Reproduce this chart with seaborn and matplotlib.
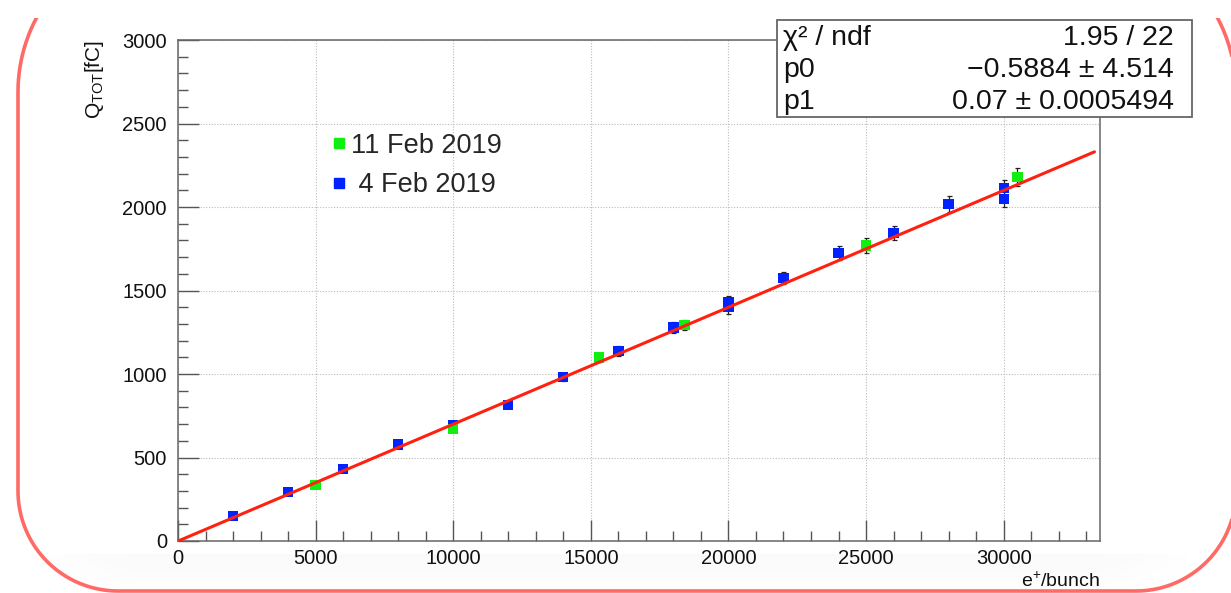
import numpy as np
import pandas as pd
import matplotlib
matplotlib.use("Agg")
import matplotlib.pyplot as plt
import matplotlib.patches as mpatches
from matplotlib.path import Path
from matplotlib.transforms import IdentityTransform, Bbox
from matplotlib.ticker import MultipleLocator
from matplotlib.lines import Line2D
import seaborn as sns

# ---- data -------------------------------------------------------------
x_feb4 = [2000, 4000, 6000, 8000, 10000, 12000, 14000, 16000, 18000,
          20000, 20000, 22000, 24000, 26000, 28000, 30000, 30000]
q_feb4 = [150, 293, 431, 578, 695, 814, 982, 1138, 1278,
          1430, 1400, 1575, 1725, 1844, 2018, 2112, 2048]
err_feb4 = [8, 12, 14, 17, 20, 20, 25, 28, 32,
            38, 40, 35, 40, 42, 45, 50, 50]

x_feb11 = [5000, 10000, 15300, 18400, 25000, 30500]
q_feb11 = [335, 671, 1098, 1293, 1770, 2180]
err_feb11 = [12, 20, 25, 32, 45, 55]

labels = ["11 Feb 2019", " 4 Feb 2019"]

# linear fit result  Q = p0 + p1 * N
chi2, ndf = 1.95, 22
p0, p0_err = -0.5884, 4.514
p1, p1_err = 0.07, 0.0005494
fit_range = [0, 33300]

# ---- style ------------------------------------------------------------
sns.set_theme(style="white")
plt.rcParams["font.family"] = ["Liberation Sans", "DejaVu Sans"]
plt.rcParams["mathtext.fontset"] = "custom"
plt.rcParams["mathtext.rm"] = "Liberation Sans"
plt.rcParams["mathtext.it"] = "Liberation Sans:italic"

W, H = 1231, 593
fig = plt.figure(figsize=(W / 100, H / 100), dpi=100)
fig.patch.set_facecolor("white")

# rounded slide frame around the canvas (pixel coordinates, origin bottom-left)
def rounded_frame(x0, y0, x1, y1, r_top, r_bot, n=40):
    pts = []
    cx, cy = x0 + r_bot, y0 + r_bot
    for t in np.linspace(np.pi, 1.5 * np.pi, n):
        pts.append((cx + r_bot * np.cos(t), cy + r_bot * np.sin(t)))
    cx, cy = x1 - r_bot, y0 + r_bot
    for t in np.linspace(1.5 * np.pi, 2 * np.pi, n):
        pts.append((cx + r_bot * np.cos(t), cy + r_bot * np.sin(t)))
    cx, cy = x1 - r_top, y1 - r_top
    for t in np.linspace(0, 0.5 * np.pi, n):
        pts.append((cx + r_top * np.cos(t), cy + r_top * np.sin(t)))
    cx, cy = x0 + r_top, y1 - r_top
    for t in np.linspace(0.5 * np.pi, np.pi, n):
        pts.append((cx + r_top * np.cos(t), cy + r_top * np.sin(t)))
    pts.append(pts[0])
    return Path(pts, closed=True)

frame_path = rounded_frame(18, 2, 1236, H + 66, 158, 100)

# faint shading along the bottom inside the frame, fading at both ends
shade_ax = fig.add_axes([0, 0, 1, 1], zorder=0)
shade_ax.set_axis_off()
gy = np.linspace(1.0, 0.0, 64)[:, None]
gx = np.clip(np.minimum(np.linspace(0, 1, 256), np.linspace(1, 0, 256)) * 12, 0, 1)[None, :]
shade_ax.imshow(gy * gx, cmap="Greys", vmin=0, vmax=20, aspect="auto",
                extent=[0.03, 0.97, 0.0, 0.065], origin="upper", alpha=0.8)
shade_ax.set_xlim(0, 1)
shade_ax.set_ylim(0, 1)
clip = mpatches.PathPatch(frame_path, transform=IdentityTransform(),
                          facecolor="none", edgecolor="none")
fig.add_artist(clip)
for im in shade_ax.images:
    im.set_clip_path(clip)

# ---- main axes --------------------------------------------------------
ax = fig.add_axes([178 / W, 1 - 541 / H, (1100 - 178) / W, (541 - 40) / H], zorder=2)
ax.set_facecolor("white")

ax.errorbar(x_feb4, q_feb4, yerr=err_feb4, fmt="none", ecolor="#222222",
            elinewidth=0.9, capsize=1.8, capthick=0.9, zorder=2)
ax.errorbar(x_feb11, q_feb11, yerr=err_feb11, fmt="none", ecolor="#222222",
            elinewidth=0.9, capsize=1.8, capthick=0.9, zorder=2)

df4 = pd.DataFrame({"x": x_feb4, "q": q_feb4})
df11 = pd.DataFrame({"x": x_feb11, "q": q_feb11})
sns.scatterplot(data=df4, x="x", y="q", ax=ax, marker="s", s=55,
                color="#0022ff", edgecolor="none", linewidth=0, zorder=3)
sns.scatterplot(data=df11, x="x", y="q", ax=ax, marker="s", s=55,
                color="#11ee11", edgecolor="none", linewidth=0, zorder=3)

fit_x = np.array(fit_range, dtype=float)
fit_df = pd.DataFrame({"x": fit_x, "q": p0 + p1 * fit_x})
sns.lineplot(data=fit_df, x="x", y="q", ax=ax, color="#ff2010", lw=2.2, zorder=4)

ax.set_xlim(0, 33500)
ax.set_ylim(0, 3000)
ax.xaxis.set_major_locator(MultipleLocator(5000))
ax.xaxis.set_minor_locator(MultipleLocator(1000))
ax.yaxis.set_major_locator(MultipleLocator(500))
ax.yaxis.set_minor_locator(MultipleLocator(100))
ax.tick_params(which="both", bottom=True, left=True, top=False, right=False)
ax.tick_params(which="major", direction="in", length=15, width=1.0,
               color="#555555", labelsize=14.5, labelcolor="#111111")
ax.tick_params(which="minor", direction="in", length=7.5, width=1.0,
               color="#555555")
ax.tick_params(axis="y", pad=8)
ax.tick_params(axis="x", pad=6)
ax.grid(True, which="major", ls=(0, (1, 1.5)), color="#bbbbbb", lw=0.8)
for sp in ax.spines.values():
    sp.set_color("#666666")
    sp.set_linewidth(1.1)

ax.set_xlabel("e$^{+}$/bunch", loc="right", fontsize=14, labelpad=2, color="#111111")
ax.set_ylabel(r"Q$_{\mathrm{TOT}}$[fC]", loc="top", fontsize=15, labelpad=12,
              color="#111111")

# legend
handles = [
    Line2D([], [], marker="s", ls="none", color="#11ee11", markersize=6.5),
    Line2D([], [], marker="s", ls="none", color="#0022ff", markersize=6.5),
]
fig.legend(handles, labels, loc="upper left",
           bbox_to_anchor=(320 / W, 1 - 122 / H), frameon=False,
           fontsize=19.5, handlelength=0.6, handletextpad=0.15,
           labelspacing=0.5, borderaxespad=0)

# fit statistics box
bx0, by0, bx1, by1 = 777, 20, 1192, 117
box = mpatches.Rectangle((bx0 / W, 1 - by1 / H), (bx1 - bx0) / W, (by1 - by0) / H,
                         transform=fig.transFigure, facecolor="white",
                         edgecolor="#666666", lw=1.3, zorder=5)
fig.add_artist(box)
rows = [
    ("χ² / ndf", f"{chi2:.2f} / {ndf}"),
    ("p0", f"\u2212{abs(p0):.4f} ± {p0_err:.3f}"),
    ("p1", f"{p1:.2f} ± {p1_err:.7f}"),
]
for i, (name, val) in enumerate(rows):
    yy = 1 - (38 + 32 * i) / H
    fig.text(783 / W, yy, name, ha="left", va="center", fontsize=20.5,
             color="#111111", zorder=6)
    fig.text(1174 / W, yy, val, ha="right", va="center", fontsize=20.5,
             color="#111111", zorder=6)

# slide frame outline (top strip of the canvas left blank)
frame = mpatches.PathPatch(frame_path, transform=IdentityTransform(),
                           facecolor="none", edgecolor="#ff6a66", lw=2.6,
                           zorder=10)
fig.add_artist(frame)
frame.set_clip_box(Bbox.from_extents(0, 0, W, H - 18))

fig.savefig("out.png", dpi=100)
